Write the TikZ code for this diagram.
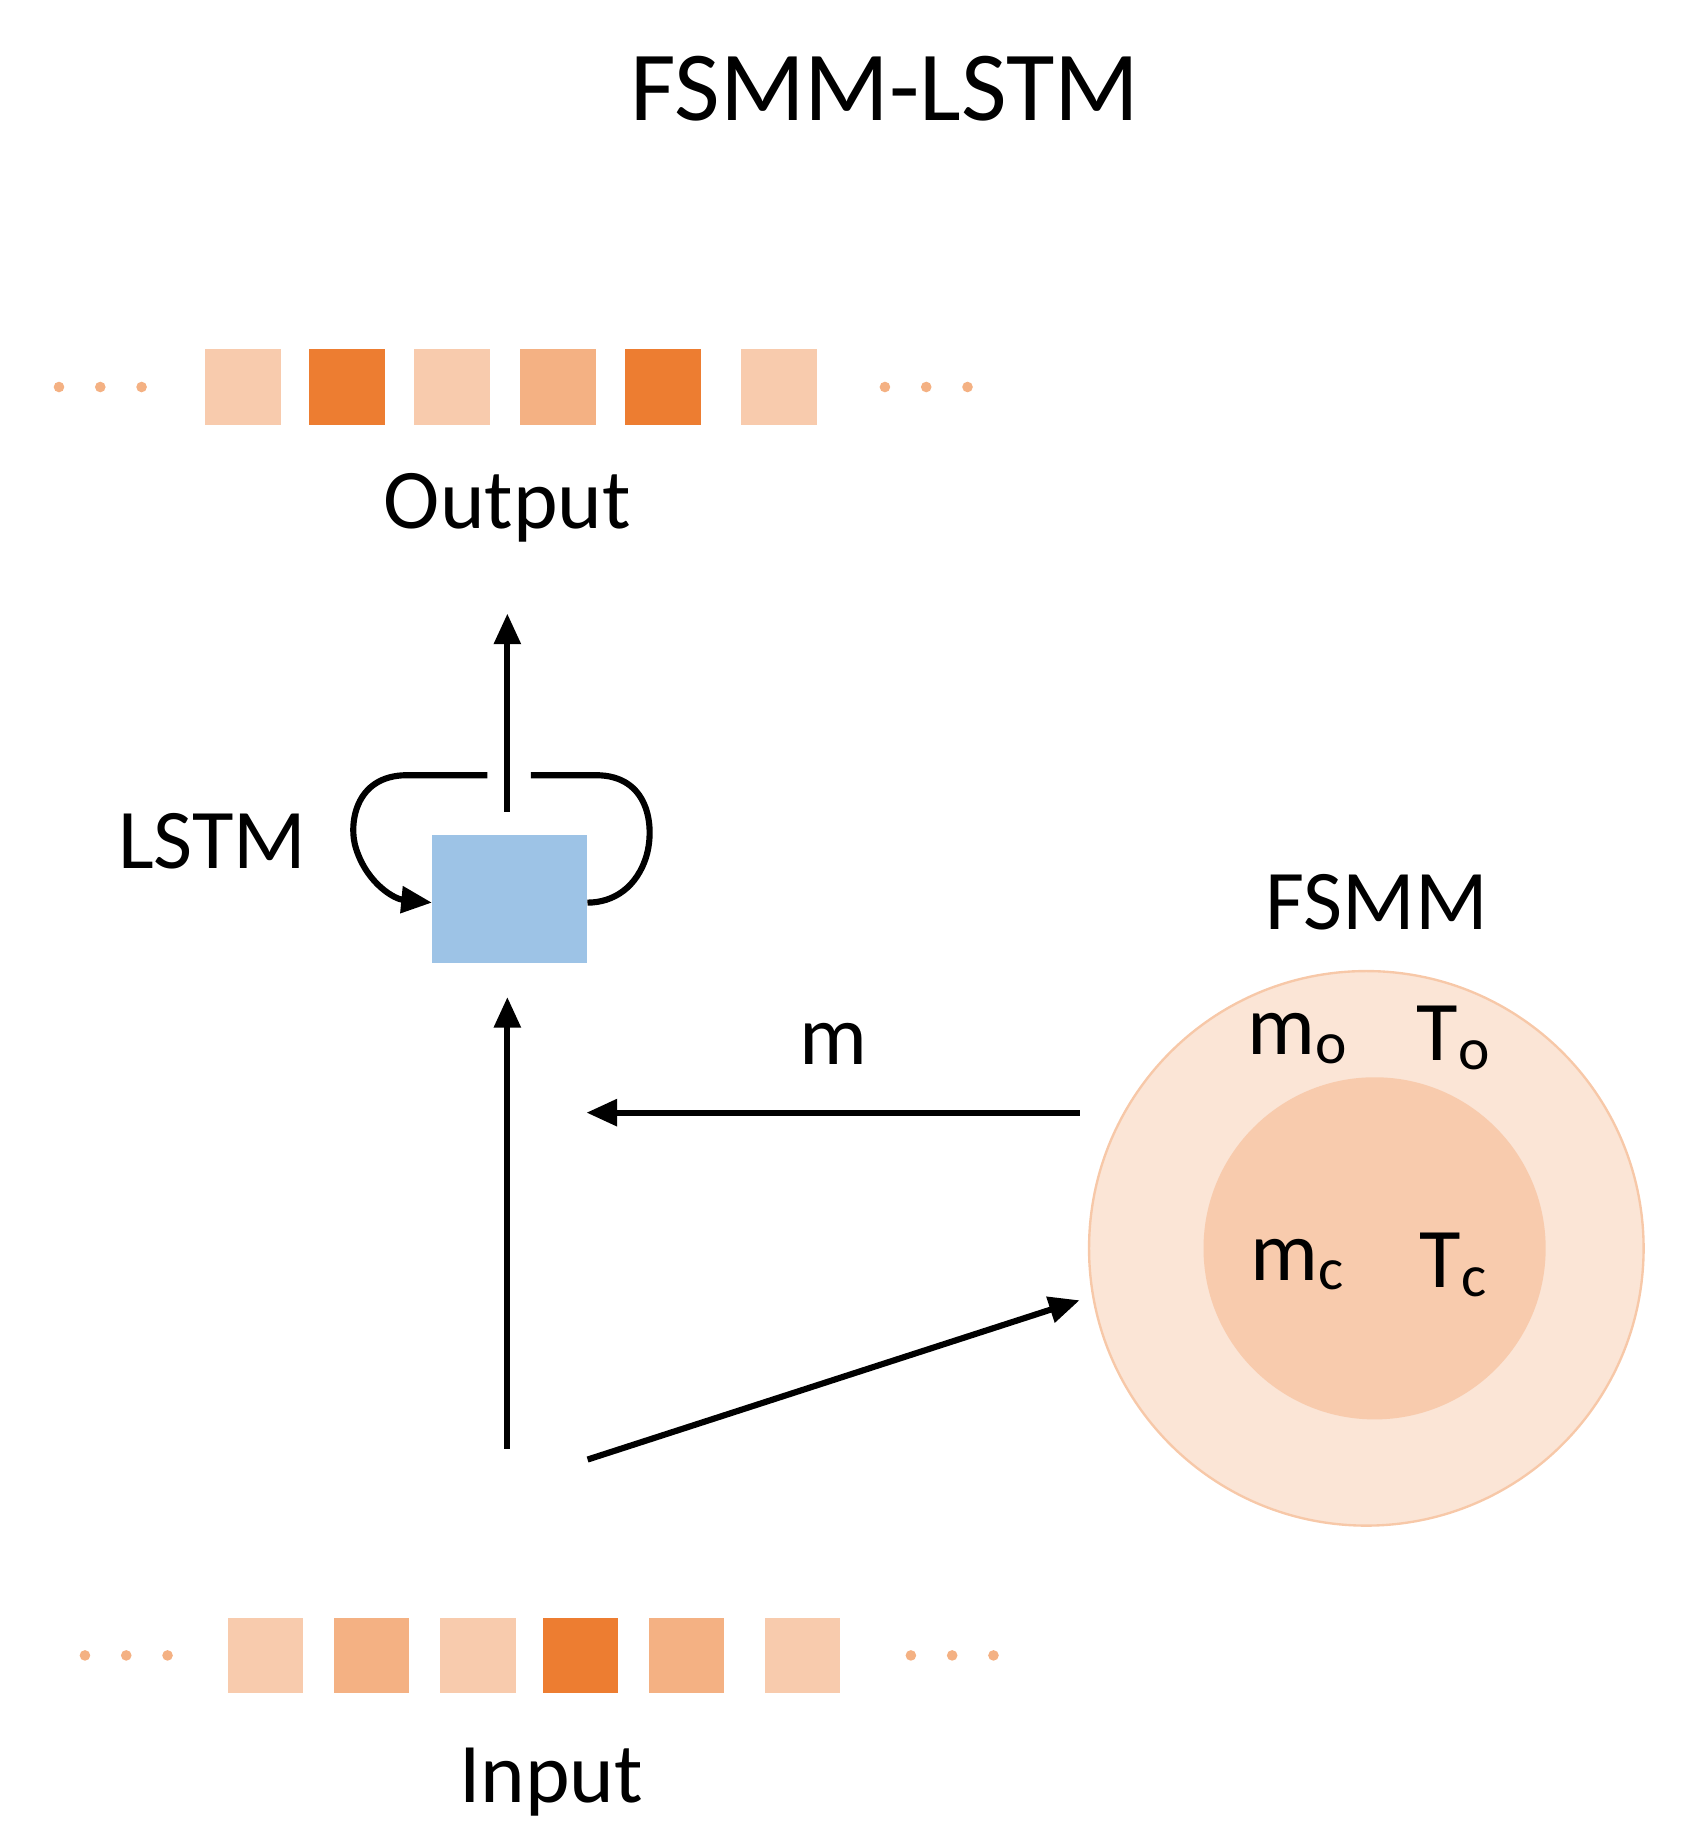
\documentclass[tikz,border=0pt]{standalone}
\usepackage{fontspec}
\setmainfont{Carlito}
\usetikzlibrary{arrows.meta}
\definecolor{lt}{HTML}{F8CBAD}
\definecolor{md}{HTML}{F4B183}
\definecolor{dk}{HTML}{ED7D31}
\definecolor{bl}{HTML}{9DC3E6}
\definecolor{outer}{HTML}{FBE5D6}
\begin{document}
\begin{tikzpicture}[x=0.5pt,y=-0.5pt,
  sq/.style={draw=none,minimum width=32pt,minimum height=32pt,inner sep=0pt},
  dot/.style={circle,fill=md,inner sep=0pt,minimum size=4.5pt},
  lbl/.style={font=\fontsize{36}{40}\selectfont},
  arr/.style={line width=2.6pt,-{Triangle[length=13pt,width=11pt]}},
  ln/.style={line width=2.6pt}]
\useasboundingbox (0,0) rectangle (1440,1562);
\node[font=\fontsize{42}{46}\selectfont] (title) at (750,75) {FSMM-LSTM};
% output row
\foreach \x/\c [count=\i] in {206/lt,294/dk,383/lt,473/md,562/dk,660/lt}
  \node[sq,fill=\c] (o\i) at (\x,328) {};
\foreach \x [count=\i] in {50,85,120,750,785,820} \node[dot] (od\i) at (\x,328) {};
\node[lbl] (output) at (430,430) {Output};
% input row
\foreach \x/\c [count=\i] in {225/lt,315/md,405/lt,492/dk,582/md,680/lt}
  \node[sq,fill=\c] (i\i) at (\x,1403) {};
\foreach \x [count=\i] in {72,107,142,772,807,842} \node[dot] (id\i) at (\x,1403) {};
\node[lbl] (input) at (467,1510) {Input};
% LSTM
\node[fill=bl,minimum width=65.5pt,minimum height=54.5pt,inner sep=0pt] (box) at (432,762) {};
\node[lbl] (lstm) at (180,713) {LSTM};
\coordinate (up0) at (430,688); \coordinate (up1) at (430,520);
\draw[arr] (up0) -- (up1);
\coordinate (lA) at (413,657); \coordinate (rA) at (450,657);
\draw[ln,-{Triangle[length=13pt,width=11pt]}] (lA) -- (345,657) .. controls (300,657) and (295,700) .. (302,720) .. controls (312,750) and (335,762) .. (box.west|-0,765);
\draw[ln] (rA) -- (505,657) .. controls (550,657) and (555,700) .. (548,725) .. controls (540,752) and (520,765) .. (box.east|-0,765);
\coordinate (in0) at (430,1228); \coordinate (in1) at (430,845);
\draw[arr] (in0) -- (in1);
% FSMM
\node[circle,fill=outer,draw=md!70,line width=1pt,minimum size=235pt,inner sep=0pt] (outerc) at (1158,1058) {};
\node[circle,fill=lt,draw=none,minimum size=145pt,inner sep=0pt] (innerc) at (1165,1058) {};
\node[lbl] (fsmm) at (1167,765) {FSMM};
\node[lbl] (mo) at (1100,880) {m$_{\mathrm{o}}$};
\node[lbl] (to) at (1232,880) {T$_{\mathrm{o}}$};
\node[lbl] (mc) at (1100,1072) {m$_{\mathrm{c}}$};
\node[lbl] (tc) at (1232,1072) {T$_{\mathrm{c}}$};
\coordinate (h0) at (915,943); \coordinate (h1) at (497,943);
\draw[arr] (h0) -- (h1);
\node[lbl] (m) at (706,885) {m};
\coordinate (d0) at (498,1237); \coordinate (d1) at (915,1102);
\draw[arr] (d0) -- (d1);
\end{tikzpicture}
\end{document}
